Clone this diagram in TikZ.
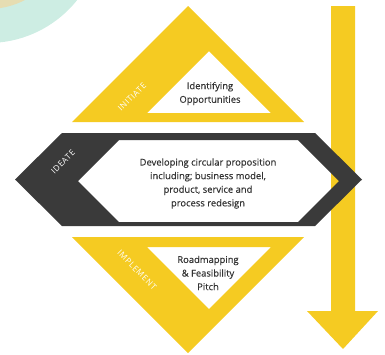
\documentclass[tikz,border=0pt]{standalone}
\usepackage{fontspec}
\setmainfont{Open Sans}
\newfontfamily\lblfont[LetterSpace=8]{Open Sans}
\newfontfamily\txtfont[FakeBold=0.4]{Open Sans}
\begin{document}
\begin{tikzpicture}[x=1pt,y=-1pt,
  txt/.style={align=center,text=black!80,font=\txtfont\fontsize{9.4}{13.6}\selectfont,inner sep=0pt},
  lbl/.style={text=white,font=\lblfont\fontsize{8.2}{9}\selectfont,inner sep=0pt}]
\definecolor{yel}{HTML}{F5CB22}
\definecolor{dark}{HTML}{3A3A3A}
\definecolor{teal0}{HTML}{CDEDE3}
\definecolor{beige}{HTML}{E6DDB2}
\useasboundingbox (0,0) rectangle (385,354);
\begin{scope}
\clip (0,0) rectangle (385,354);
\fill[teal0] (-12,-71) circle (114);
\fill[beige] (-12,-71) circle (80);
\end{scope}
% arrow
\fill[yel] (331,6) -- (355,6) -- (355,311) -- (378,311) -- (343,349) -- (307,311) -- (331,311) -- cycle;
% top triangle
\fill[yel,even odd rule] (188,6) -- (304,122) -- (72,122) -- cycle
  (209,51) -- (271,113) -- (147,113) -- cycle;
% bottom triangle
\fill[yel,even odd rule] (72,237) -- (304,237) -- (188,353) -- cycle
  (147,247) -- (271,247) -- (209,309) -- cycle;
% hexagon
\fill[dark,even odd rule] (15,179.5) -- (62,133) -- (315,133) -- (362,179.5) -- (315,226) -- (62,226) -- cycle
  (78,181) -- (119,140) -- (298,140) -- (339,181) -- (298,222) -- (119,222) -- cycle;
\node[txt] (init) at (210,93.5) {Identifying\\Opportunities};
\node[txt] (ideate) at (208,183.5) {Developing circular proposition\\including; business model,\\product, service and\\process redesign};
\node[txt] (impl) at (208,273) {Roadmapping\\\& Feasibility\\Pitch};
\node[lbl,rotate=45] (linit) at (132,97) {INITIATE};
\node[lbl,rotate=45] (lideate) at (63,162) {IDEATE};
\node[lbl,rotate=-45] (limpl) at (137,270) {IMPLEMENT};
\end{tikzpicture}
\end{document}
